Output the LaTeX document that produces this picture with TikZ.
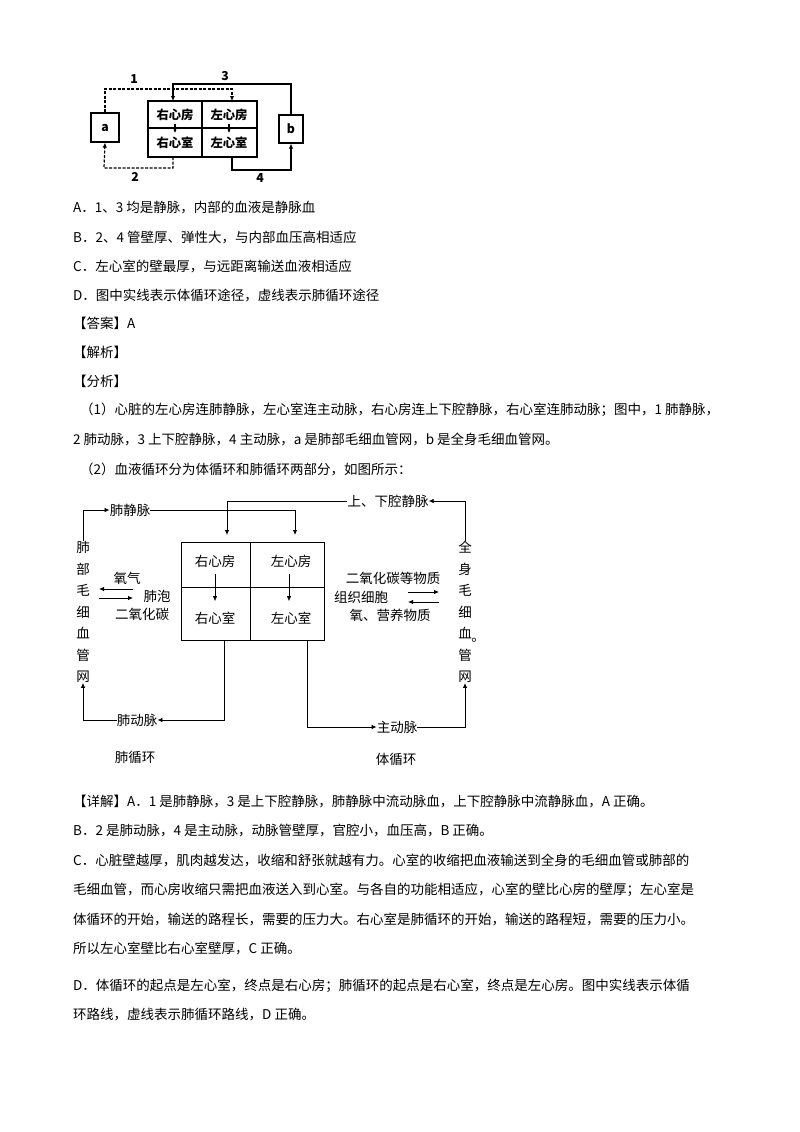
\documentclass[tikz,border=0pt]{standalone}
\usepackage{fontspec}
\setmainfont{Noto Sans CJK SC}
\usetikzlibrary{arrows.meta}
\begin{document}
\begin{tikzpicture}[x=1pt,y=-1pt,
  txt/.style={anchor=west,inner sep=0pt,font=\fontsize{13.5}{14}\selectfont},
  lab/.style={inner sep=0pt,font=\fontsize{13.5}{14}\selectfont},
  blab/.style={inner sep=0pt,font=\fontsize{12.3}{13}\selectfont\bfseries},
  ar/.style={-{Latex[length=5pt,width=4.5pt]}},
  ln/.style={line width=0.8pt},
  dl/.style={line width=1.2pt,dash pattern=on 3pt off 1.5pt}]
\useasboundingbox (0,0) rectangle (800,1132);
% ---------- top figure ----------
\node[draw,line width=1.2pt,minimum width=28pt,minimum height=29pt,blab] (a) at (105,127.5) {a};
\node[draw,line width=1.2pt,minimum width=24pt,minimum height=28pt,blab] (b) at (291,129) {b};
\draw[line width=1.2pt] (148,101) rectangle (257,157);
\draw[line width=1.2pt] (148,128) -- (257,128) (202,101) -- (202,157);
\node[blab] (ra) at (175,115) {右心房};
\node[blab] (la) at (229,115) {左心房};
\node[blab] (rv) at (175,143) {右心室};
\node[blab] (lv) at (229,143) {左心室};
\coordinate (raT) at (173,101); \coordinate (laT) at (232,101);
\coordinate (rvB) at (173,157); \coordinate (lvB) at (232,157);
\draw[dl,-{Latex[length=5pt,width=4.5pt]}] (a.north) |- (232,89) -- (laT);
\draw[line width=1.2pt,-{Latex[length=5pt,width=4.5pt]}] (b.north) |- (173,84) -- (raT);
\draw[dl,-{Latex[length=5pt,width=4.5pt]}] (rvB) |- (104,168) -- (a.south);
\draw[line width=1.2pt,-{Latex[length=5pt,width=4.5pt]}] (lvB) |- (291,170) -- (b.south);
\draw[line width=1.2pt,-{Latex[length=3.5pt,width=3.5pt]}] (175,124) -- (175,133);
\draw[line width=1.2pt,-{Latex[length=3.5pt,width=3.5pt]}] (229,124) -- (229,133);
\node[blab] (n1) at (134,79) {1};
\node[blab] (n3) at (225,76) {3};
\node[blab] (n2) at (135,177) {2};
\node[blab] (n4) at (260,178) {4};
% ---------- text ----------
\node[txt] (tA) at (73,208) {A．1、3 均是静脉，内部的血液是静脉血};
\node[txt] (tB) at (73,237) {B．2、4 管壁厚、弹性大，与内部血压高相适应};
\node[txt] (tC) at (73,266) {C．左心室的壁最厚，与远距离输送血液相适应};
\node[txt] (tD) at (73,295) {D．图中实线表示体循环途径，虚线表示肺循环途径};
\node[txt] (t1) at (73,323) {【答案】A};
\node[txt] (t2) at (73,352) {【解析】};
\node[txt] (t3) at (73,381) {【分析】};
\node[txt] (t4) at (80,410) {（1）心脏的左心房连肺静脉，左心室连主动脉，右心房连上下腔静脉，右心室连肺动脉；图中，1 肺静脉，};
\node[txt] (t5) at (73,439) {2 肺动脉，3 上下腔静脉，4 主动脉，a 是肺部毛细血管网，b 是全身毛细血管网。};
\node[txt] (t6) at (80,469) {（2）血液循环分为体循环和肺循环两部分，如图所示：};
% ---------- second figure ----------
\draw[ln] (181,542) rectangle (324,640);
\draw[ln] (181,587) -- (324,587) (250,542) -- (250,640);
\node[lab] (RA) at (215,561) {右心房};
\node[lab] (LA) at (291,561) {左心房};
\node[lab] (RV) at (215,618) {右心室};
\node[lab] (LV) at (291,618) {左心室};
\draw[ar] (215,574) -- (215,601);
\draw[ar] (289,574) -- (289,601);
\node[lab,align=center,font=\fontsize{13.5}{21.5}\selectfont] (lung) at (83,612) {肺\\部\\毛\\细\\血\\管\\网};
\node[lab,align=center,font=\fontsize{13.5}{21.5}\selectfont] (body) at (465,612) {全\\身\\毛\\细\\血\\管\\网};
\node[lab] (dot) at (478,640) {。};
\node[lab] (pv) at (130,510) {肺静脉};
\node[lab] (vc) at (388,501) {上、下腔静脉};
\node[lab] (pa) at (137,720) {肺动脉};
\node[lab] (ao) at (397,727) {主动脉};
\node[lab] (pc) at (135,757) {肺循环};
\node[lab] (sc) at (396,759) {体循环};
\draw[ln,ar] (lung.north) |- (pv.west);
\draw[ln,ar] (pv.east) -| (295,535);
\draw[ln,ar] (vc.west) -| (227,535);
\draw[ln,ar] (body.north) |- (vc.east);
\draw[ln,ar] (224,640) |- (pa.east);
\draw[ln,ar] (pa.west) -| (lung.south);
\draw[ln,ar] (307,640) |- (ao.west);
\draw[ln,ar] (ao.east) -| (body.south);
\node[lab] (o2) at (127,578) {氧气};
\node[lab] (pao) at (157,596) {肺泡};
\node[lab] (co2) at (142,614) {二氧化碳};
\draw[ln,ar] (133,589) -- (99,589);
\draw[ln,ar] (99,598) -- (133,598);
\node[lab] (co2b) at (393,578) {二氧化碳等物质};
\node[lab] (cell) at (361,597) {组织细胞};
\node[lab] (nut) at (390,615) {氧、营养物质};
\draw[ln,ar] (408,592) -- (439,592);
\draw[ln,ar] (439,602) -- (408,602);
% ---------- text ----------
\node[txt] (u1) at (73,802) {【详解】A．1 是肺静脉，3 是上下腔静脉，肺静脉中流动脉血，上下腔静脉中流静脉血，A 正确。};
\node[txt] (u2) at (73,831) {B．2 是肺动脉，4 是主动脉，动脉管壁厚，官腔小，血压高，B 正确。};
\node[txt] (u3) at (73,860) {C．心脏壁越厚，肌肉越发达，收缩和舒张就越有力。心室的收缩把血液输送到全身的毛细血管或肺部的};
\node[txt] (u4) at (73,890) {毛细血管，而心房收缩只需把血液送入到心室。与各自的功能相适应，心室的壁比心房的壁厚；左心室是};
\node[txt] (u5) at (73,919) {体循环的开始，输送的路程长，需要的压力大。右心室是肺循环的开始，输送的路程短，需要的压力小。};
\node[txt] (u6) at (73,948) {所以左心室壁比右心室壁厚，C 正确。};
\node[txt] (u7) at (73,986) {D．体循环的起点是左心室，终点是右心房；肺循环的起点是右心室，终点是左心房。图中实线表示体循};
\node[txt] (u8) at (73,1015) {环路线，虚线表示肺循环路线，D 正确。};
\end{tikzpicture}
\end{document}
